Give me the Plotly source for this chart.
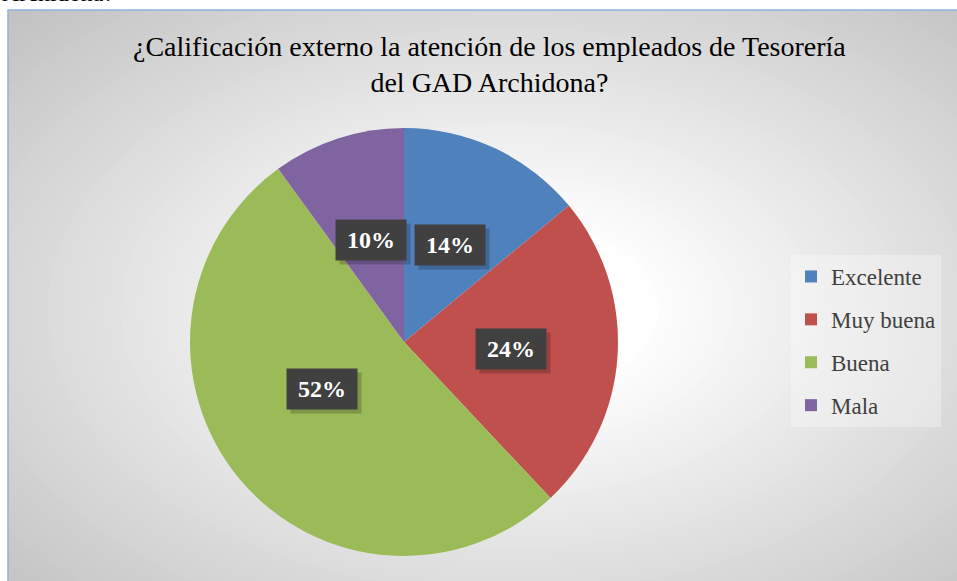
import math
import plotly.graph_objects as go

# ---- data ----
categories = ["Excelente", "Muy buena", "Buena", "Mala"]
values = [14, 24, 52, 10]
colors = ["#4F81BD", "#C0504D", "#9BBB59", "#8064A2"]
title_text = "¿Calificación externo la atención de los empleados de Tesorería<br>del GAD Archidona?"
above_text = "Archidona?"

SERIF = "Liberation Serif, Times New Roman, Times, DejaVu Serif, serif"

W, H = 957, 581
# pie geometry in pixels
pcx, pcy, R = 404, 342, 214
# chart area (pixels)
ax0, ay0 = 8, 10

fig = go.Figure()

fig.add_trace(go.Pie(
    labels=categories, values=values, sort=False, direction="clockwise", rotation=0,
    marker=dict(colors=colors, line=dict(width=0)),
    textinfo="none", showlegend=False, hoverinfo="label+percent",
    domain=dict(x=[(pcx - R) / W, (pcx + R) / W], y=[1 - (pcy + R) / H, 1 - (pcy - R) / H]),
))

# legend entries
for c, col in zip(categories, colors):
    fig.add_trace(go.Scatter(
        x=[None], y=[None], mode="markers", name=c, legendgroup=c,
        marker=dict(symbol="square", size=12, color=col), hoverinfo="skip",
    ))

# background radial gradient (styling only)
shapes = []
gcx, gcy, grx, gry = 510, 310, 482, 295
n = 60
for i in range(n + 1):
    d = 1.5 - (1.5 - 0.2) * i / n
    c = 255 - 59 * max(0.0, d - 0.28) / 1.13
    c = int(round(max(190, min(255, c))))
    shapes.append(dict(
        type="circle", xref="x", yref="y", layer="below",
        x0=gcx - grx * d, x1=gcx + grx * d, y0=gcy - gry * d, y1=gcy + gry * d,
        fillcolor=f"rgb({c},{c},{c})", line=dict(width=0),
    ))
# chart border
shapes.append(dict(type="rect", xref="paper", yref="paper", layer="above",
                   x0=ax0 / W, x1=1.05, y0=-0.05, y1=1 - ay0 / H,
                   line=dict(color="#8DB4E2", width=1.5), fillcolor="rgba(0,0,0,0)"))

# data labels
annotations = []
total = sum(values)
cum = 0
for v in values:
    mid = (cum + v / 2) / total
    cum += v
    th = 2 * math.pi * mid
    lx = pcx + 0.5 * R * math.sin(th)
    ly = pcy - 0.5 * R * math.cos(th)
    txt = f"{round(100 * v / total)}%"
    # shadow
    annotations.append(dict(
        x=(lx + 4) / W, y=1 - (ly + 4) / H, xref="paper", yref="paper", showarrow=False,
        text=" ", width=60, height=30, borderpad=5, bgcolor="rgba(0,0,0,0.2)",
        font=dict(size=24),
    ))
    annotations.append(dict(
        x=lx / W, y=1 - ly / H, xref="paper", yref="paper", showarrow=False,
        text=f"<b>{txt}</b>", width=60, height=30, borderpad=5, bgcolor="#404040",
        font=dict(family=SERIF, size=24, color="white"),
    ))

# chart title
annotations.append(dict(
    x=490 / W, y=1 - 65 / H, xref="paper", yref="paper", xanchor="center", yanchor="middle",
    showarrow=False, text=title_text,
    font=dict(family=SERIF, size=28, color="black"),
))

annotations.append(dict(
    x=0, y=1 - 8 / H, xref="paper", yref="paper", xanchor="left", yanchor="bottom",
    showarrow=False, text=above_text,
    font=dict(family=SERIF, size=24, color="black"),
))

fig.update_layout(
    width=W, height=H,
    margin=dict(l=0, r=0, t=0, b=0, autoexpand=False),
    paper_bgcolor="white",
    plot_bgcolor="rgb(196,196,196)",
    xaxis=dict(domain=[ax0 / W, 1], range=[ax0, W], visible=False, fixedrange=True),
    yaxis=dict(domain=[0, 1 - ay0 / H], range=[H, ay0], visible=False, fixedrange=True),
    legend=dict(x=791 / W, y=1 - 255 / H, xanchor="left", yanchor="top",
                bgcolor="rgba(255,255,255,0.3)", tracegroupgap=10,
                font=dict(family=SERIF, size=23, color="#404040")),
    shapes=shapes,
    annotations=annotations,
    showlegend=True,
)

fig.write_html("out.html", config={"displayModeBar": False},
               post_script="document.body.style.margin='0px';")
